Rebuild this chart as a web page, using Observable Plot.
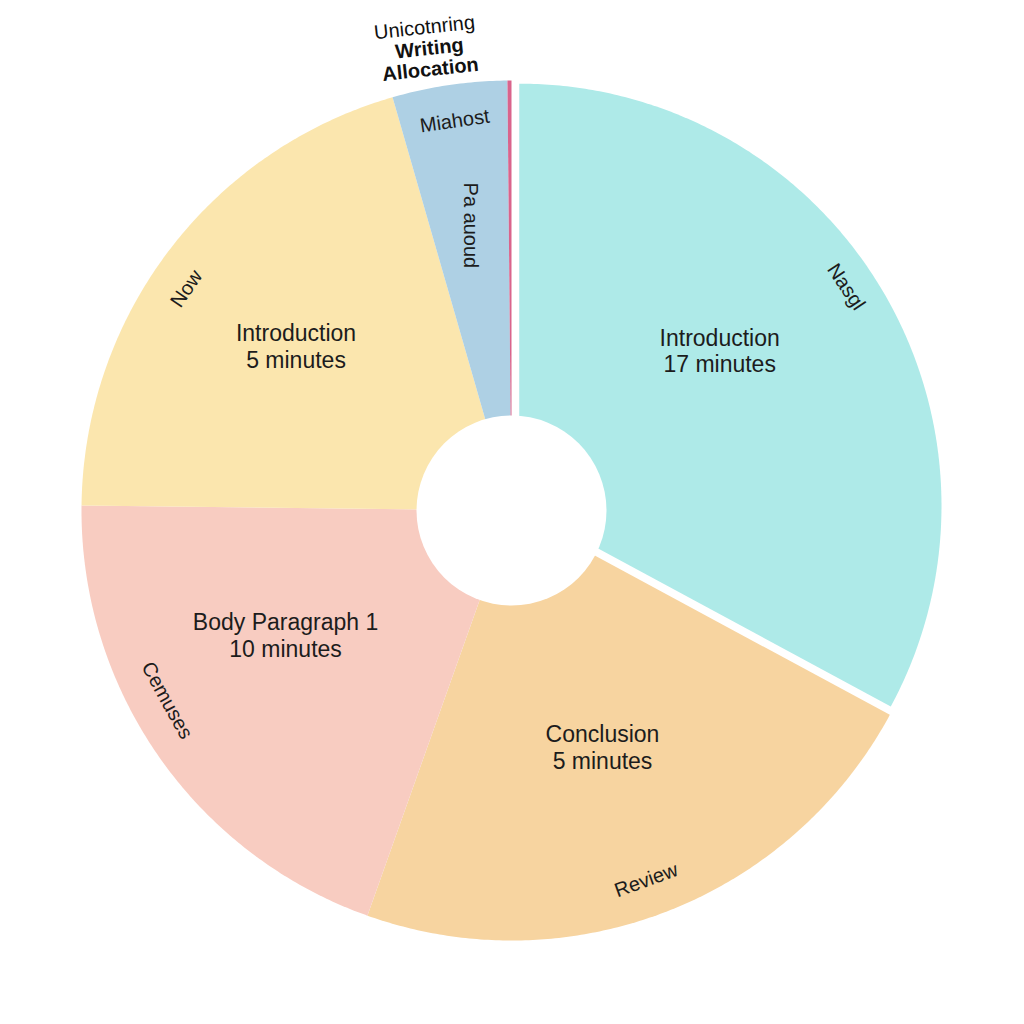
<!DOCTYPE html>
<html>
<head>
<meta charset="utf-8">
<script src="https://cdn.jsdelivr.net/npm/d3@7"></script>
<script src="https://cdn.jsdelivr.net/npm/@observablehq/plot@0.6"></script>
<style>
  html, body { margin: 0; padding: 0; background: #ffffff; }
  #chart { width: 1024px; height: 1024px; }
</style>
</head>
<body>
<div id="chart"></div>
<script>
// ---- data ----
const categories   = ["Introduction", "Conclusion", "Body Paragraph 1", "Introduction", "Miahost", "Accent"];
const shares       = [32.8, 22.5, 19.7, 20.3, 4.3, 0.15];   // share of the circle, %
const minuteLabels = ["17 minutes", "5 minutes", "10 minutes", "5 minutes", null, null];
const rimLabels    = ["Nasgl", "Review", "Cemuses", "Now", "Miahost", null];
const innerLabels  = [null, null, null, null, "Pa auoud", null];
const titleLines   = ["Unicotnring", "Writing", "Allocation"];

// ---- styling / layout ----
const colors      = ["#aeeae8", "#f7d4a0", "#f8ccc1", "#fbe6ae", "#aed0e4", "#d9648c"];
const FONT = "Liberation Sans, Arial, Helvetica, sans-serif";
const W = 1024, H = 1024, cx = 511, cy = 510, R = 430;
const explodePx   = [9, 0, 0, 0, 0, 0];
const radiusScale = [0.982, 1, 1, 1, 1, 1];
const mainNudgeDeg = [-7, 0, 6, 0, 0, 0];
const mainRadius   = [0.59, 0.59, 0.6, 0.63, 0.6, 0.6];
const rimNudgeDeg  = [-3, 1, 6, -3, 0, 0];
const holePx = 95;

const keys = categories.map((c, i) => `${i}:${c}`);
const arcs = d3.pie().sort(null).value(d => d)(shares);

// wedge outlines in unit-radius coordinates (y up)
const pts = [];
arcs.forEach((a, i) => {
  const mid = (a.startAngle + a.endAngle) / 2;
  const e = explodePx[i] / R;
  const ox = e * Math.sin(mid), oy = e * Math.cos(mid);
  const rr = radiusScale[i];
  pts.push({k: keys[i], x: ox, y: oy});
  const n = Math.max(4, Math.ceil((a.endAngle - a.startAngle) / (Math.PI / 360)));
  for (let j = 0; j <= n; j++) {
    const t = a.startAngle + (a.endAngle - a.startAngle) * j / n;
    pts.push({k: keys[i], x: ox + rr * Math.sin(t), y: oy + rr * Math.cos(t)});
  }
  pts.push({k: keys[i], x: ox, y: oy});
});

function place(a, i, r, nudgeDeg) {
  const mid = (a.startAngle + a.endAngle) / 2;
  const ang = mid + (nudgeDeg || 0) * Math.PI / 180;
  const e = explodePx[i] / R;
  return {
    x: r * Math.sin(ang) + e * Math.sin(mid),
    y: r * Math.cos(ang) + e * Math.cos(mid),
    deg: ang * 180 / Math.PI
  };
}
function tangent(deg) {
  if (deg > 90 && deg < 270) return deg - 180;
  if (deg >= 270) return deg - 360;
  return deg;
}

const mainLabels = [];
const rim = [];
const inner = [];
arcs.forEach((a, i) => {
  if (minuteLabels[i]) {
    const p = place(a, i, mainRadius[i], mainNudgeDeg[i]);
    mainLabels.push({...p, text: categories[i] + "\n" + minuteLabels[i]});
  }
  if (rimLabels[i]) {
    const p = place(a, i, 0.915, rimNudgeDeg[i]);
    rim.push({...p, text: rimLabels[i], rot: tangent(p.deg)});
  }
  if (innerLabels[i]) {
    const p = place(a, i, 0.67, 0);
    inner.push({...p, text: innerLabels[i]});
  }
});

const titleMark = (line, dx, dy, weight) =>
  Plot.text([line], {
    text: d => d, frameAnchor: "top", lineAnchor: "middle",
    dx, dy, rotate: -6, fontSize: 20, fontWeight: weight,
    fill: "#111", fontFamily: FONT
  });

const chart = Plot.plot({
  width: W, height: H,
  margin: 0,
  x: {domain: [(0 - cx) / R, (W - cx) / R], range: [0, W], axis: null},
  y: {domain: [(cy - H) / R, cy / R], range: [H, 0], axis: null},
  color: {type: "ordinal", domain: keys, range: colors},
  style: {fontFamily: FONT, background: "#ffffff"},
  marks: [
    Plot.line(pts, {x: "x", y: "y", z: "k", fill: "k", stroke: "none", curve: "linear"}),
    Plot.dot([{x: 0, y: 0}], {x: "x", y: "y", r: holePx, fill: "#ffffff", stroke: "none"}),
    Plot.text(mainLabels, {x: "x", y: "y", text: "text", fontSize: 23, lineHeight: 1.17,
      fill: "#1c1c1c", fontFamily: FONT}),
    Plot.text(rim, {x: "x", y: "y", text: "text", rotate: "rot", fontSize: 20,
      fill: "#1c1c1c", fontFamily: FONT}),
    Plot.text(inner, {x: "x", y: "y", text: "text", rotate: 90, fontSize: 20,
      fill: "#1c1c1c", fontFamily: FONT}),
    titleMark(titleLines[0], -88, 27, "normal"),
    titleMark(titleLines[1], -83, 48, "bold"),
    titleMark(titleLines[2], -82, 69, "bold")
  ]
});

document.getElementById("chart").append(chart);
</script>
</body>
</html>
